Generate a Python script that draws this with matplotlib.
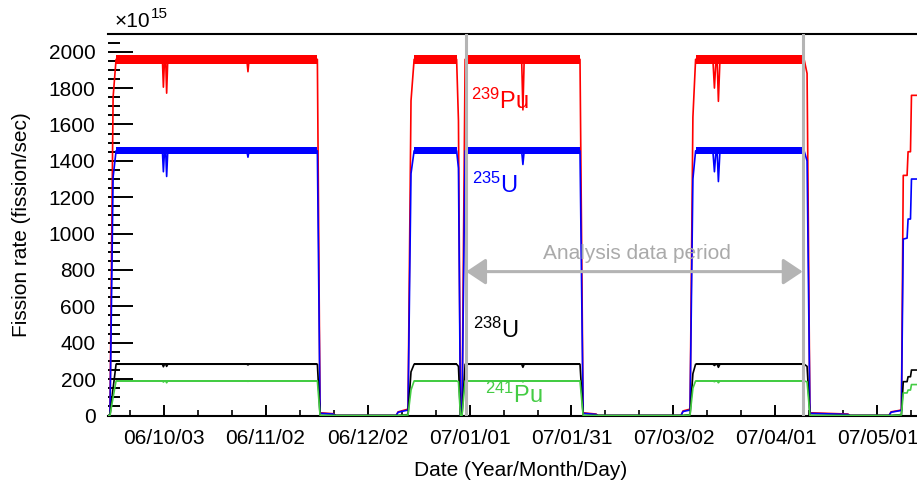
import matplotlib
matplotlib.use("Agg")
import matplotlib.pyplot as plt
import matplotlib.dates as mdates
from matplotlib.ticker import MultipleLocator
import pandas as pd

plt.rcParams['font.family'] = ['Liberation Sans', 'DejaVu Sans']
plt.rcParams['mathtext.default'] = 'regular'

# breakpoints (all series share the same time stamps)
time_points = [
    "2006-09-16 16:00", "2006-09-17 06:00", "2006-09-18 04:00", "2006-09-19 01:00",
    "2006-10-02 16:00", "2006-10-02 23:00", "2006-10-03 07:00",
    "2006-10-03 15:00", "2006-10-03 22:00", "2006-10-04 06:00",
    "2006-10-27 12:00", "2006-10-27 20:00", "2006-10-28 04:00",
    "2006-11-17 06:00", "2006-11-18 01:00", "2006-11-21 20:00", "2006-11-22 17:00",
    "2006-12-10 10:00", "2006-12-11 00:00", "2006-12-13 22:00", "2006-12-14 19:00", "2006-12-15 17:00",
    "2006-12-28 05:00", "2006-12-28 18:00", "2006-12-29 08:00", "2006-12-29 19:00", "2006-12-30 17:00",
    "2007-01-16 08:00", "2007-01-16 17:00", "2007-01-17 02:00",
    "2007-02-02 12:00", "2007-02-03 10:00", "2007-02-07 05:00", "2007-02-07 19:00",
    "2007-03-04 05:00", "2007-03-04 19:00", "2007-03-06 21:00", "2007-03-07 17:00", "2007-03-08 12:00",
    "2007-03-13 14:00", "2007-03-14 01:00", "2007-03-14 12:00",
    "2007-03-14 20:00", "2007-03-15 05:00", "2007-03-15 16:00",
    "2007-04-09 10:00", "2007-04-10 07:00", "2007-04-11 03:00", "2007-04-22 07:00", "2007-04-22 22:00",
    "2007-05-04 09:00", "2007-05-05 00:00", "2007-05-08 01:00", "2007-05-08 14:00",
    "2007-05-09 17:00", "2007-05-10 00:00", "2007-05-10 17:00", "2007-05-11 00:00", "2007-05-12 15:00",
]

pu239 = [0, 0, 1750, 1958, 1958, 1805, 1958, 1958, 1772, 1958, 1958, 1890, 1958,
         1958, 15, 10, 0, 0, 20, 35, 1730, 1958, 1958, 1620, 0, 0, 1958,
         1958, 1680, 1958, 1958, 15, 8, 0, 0, 25, 35, 1640, 1958,
         1958, 1800, 1958, 1958, 1727, 1958, 1958, 1880, 15, 8, 0,
         0, 20, 30, 1320, 1320, 1450, 1450, 1760, 1760]
u235 = [0, 0, 1310, 1455, 1455, 1340, 1455, 1455, 1314, 1455, 1455, 1420, 1455,
        1455, 12, 8, 0, 0, 18, 30, 1330, 1455, 1455, 1360, 0, 0, 1455,
        1455, 1380, 1455, 1455, 12, 6, 0, 0, 22, 30, 1300, 1455,
        1455, 1340, 1455, 1455, 1286, 1455, 1455, 1400, 12, 6, 0,
        0, 18, 28, 970, 975, 1080, 1080, 1300, 1300]
u238 = [0, 0, 150, 282, 282, 268, 282, 282, 270, 282, 282, 278, 282,
        282, 0, 0, 0, 0, 0, 5, 240, 282, 282, 270, 0, 0, 282,
        282, 265, 282, 282, 0, 0, 0, 0, 0, 5, 230, 282,
        282, 275, 282, 282, 265, 282, 282, 270, 0, 0, 0,
        0, 0, 5, 186, 186, 213, 213, 250, 250]
pu241 = [0, 0, 100, 190, 190, 184, 190, 190, 180, 190, 190, 188, 190,
         190, 0, 0, 0, 0, 0, 3, 140, 190, 190, 185, 0, 0, 190,
         190, 185, 190, 190, 0, 0, 0, 0, 0, 3, 150, 190,
         190, 186, 190, 190, 180, 190, 190, 185, 0, 0, 0,
         0, 0, 3, 124, 124, 140, 140, 170, 170]

# reactor-on plateaus, where the traces have a noisy band
on_spans = [("2006-09-19 01:00", "2006-11-17 06:00"),
            ("2006-12-15 17:00", "2006-12-28 05:00"),
            ("2006-12-30 17:00", "2007-02-02 12:00"),
            ("2007-03-08 12:00", "2007-04-09 10:00")]

analysis_period = ["2006-12-31 00:00", "2007-04-09 00:00"]

tick_dates = ["2006-10-03", "2006-11-02", "2006-12-02", "2007-01-01",
              "2007-01-31", "2007-03-02", "2007-04-01", "2007-05-01"]
tick_labels = ["06/10/03", "06/11/02", "06/12/02", "07/01/01",
               "07/01/31", "07/03/02", "07/04/01", "07/05/01"]

series = [
    # values, colour, band half width, label, label date, label value
    (pu239, "#ff0000", 26, r"$^{239}$Pu", "2007-01-01 10:00", 1725),
    (u235, "#0000ff", 20, r"$^{235}$U", "2007-01-01 18:00", 1268),
    (u238, "#000000", 5, r"$^{238}$U", "2007-01-02 02:00", 470),
    (pu241, "#44cc44", 4, r"$^{241}$Pu", "2007-01-05 14:00", 113),
]

t = pd.to_datetime(time_points)

fig = plt.figure(figsize=(9.17, 4.84), dpi=100)
ax = fig.add_axes([108 / 917, 1 - 415.5 / 484, 1 - 108 / 917, 382 / 484])

for z, (vals, col, hw, lab, lab_t, lab_v) in enumerate(series):
    ax.plot(t, vals, color=col, lw=1.2, zorder=2 + z)
    for s, e in on_spans:
        level = vals[time_points.index(s)]
        ax.fill_between(pd.to_datetime([s, e]), level - hw, level + hw,
                        color=col, lw=0, zorder=2 + z)
    ax.text(pd.Timestamp(lab_t), lab_v, lab, color=col, fontsize=17,
            ha="left", va="center", zorder=10)

# analysis period markers
gray = "#b4b4b4"
for d in analysis_period:
    ax.axvline(pd.Timestamp(d), color=gray, lw=2.2, zorder=8)
ax.annotate("", xy=(pd.Timestamp(analysis_period[1]), 791),
            xytext=(pd.Timestamp(analysis_period[0]), 791),
            arrowprops=dict(arrowstyle="<|-|>,head_length=0.6,head_width=0.4",
                            color=gray, lw=2.2, shrinkA=0, shrinkB=0,
                            mutation_scale=20), zorder=8)
ax.text(pd.Timestamp("2007-02-19 07:00"), 888, "Analysis data period",
        color="#aaaaaa", fontsize=15, ha="center", va="center")

ax.set_xlim(pd.Timestamp("2006-09-16 16:00"), pd.Timestamp("2007-05-12 15:00"))
ax.set_ylim(0, 2100)

ax.set_xticks(pd.to_datetime(tick_dates))
ax.set_xticklabels(tick_labels)
ax.set_xticks(pd.date_range("2006-09-23", "2007-05-12", freq="10D"), minor=True)
ax.set_yticks(range(0, 2001, 200))
ax.yaxis.set_minor_locator(MultipleLocator(50))

ax.tick_params(axis="y", which="major", direction="in", length=18, width=1.4,
               labelsize=15, pad=9)
ax.tick_params(axis="y", which="minor", direction="in", length=8.6, width=1.4)
ax.tick_params(axis="x", which="major", direction="in", length=8, width=1.4,
               labelsize=15, pad=10)
ax.tick_params(axis="x", which="minor", direction="in", length=4.3, width=1.2)

for side in ["left", "right"]:
    ax.spines[side].set_visible(False)
for side in ["top", "bottom"]:
    ax.spines[side].set_linewidth(1.5)

ax.set_xlabel("Date (Year/Month/Day)", fontsize=15)
ax.set_ylabel("Fission rate (fission/sec)", fontsize=15)
ax.xaxis.set_label_coords(0.51, -0.12)
ax.yaxis.set_label_coords(-0.095, 0.5)

fig.text(115 / 917, 1 - 26.7 / 484, "\u00d710", fontsize=15, va="baseline")
fig.text(150.5 / 917, 1 - 18.3 / 484, "15", fontsize=11, va="baseline")

fig.savefig("out.png", dpi=100)
